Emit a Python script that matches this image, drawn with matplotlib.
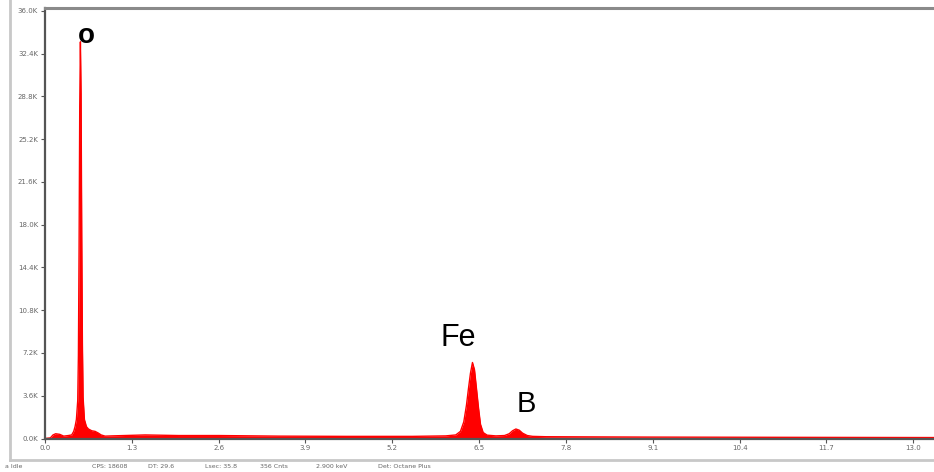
import matplotlib
matplotlib.use("Agg")
import matplotlib.pyplot as plt
from matplotlib.lines import Line2D
from matplotlib.ticker import FuncFormatter

# Spectrum (energy in keV, counts in thousands)
energy = [0.00, 0.08, 0.12, 0.16, 0.22, 0.28, 0.35, 0.40, 0.43, 0.45, 0.47,
          0.49, 0.50, 0.51, 0.52, 0.53, 0.54, 0.55, 0.56, 0.57, 0.59, 0.62,
          0.65, 0.70, 0.75, 0.80, 0.84, 0.90, 1.00, 1.50, 2.00, 2.60, 3.50,
          4.50, 5.50, 6.00, 6.15, 6.22, 6.27, 6.31, 6.34, 6.37, 6.40, 6.43,
          6.46, 6.49, 6.52, 6.56, 6.62, 6.75, 6.88, 6.95, 7.00, 7.05, 7.10,
          7.15, 7.22, 7.30, 7.50, 9.00, 11.00, 13.30]
counts = [0.00, 0.05, 0.30, 0.40, 0.35, 0.20, 0.25, 0.30, 0.60, 1.00, 1.60,
          3.20, 7.00, 16.0, 28.0, 33.4, 29.0, 17.0, 8.00, 3.50, 1.60, 1.00,
          0.80, 0.65, 0.60, 0.45, 0.30, 0.20, 0.22, 0.30, 0.25, 0.25, 0.20,
          0.18, 0.18, 0.22, 0.30, 0.60, 1.40, 2.80, 4.20, 5.50, 6.40, 5.80,
          4.20, 2.60, 1.20, 0.50, 0.28, 0.22, 0.25, 0.40, 0.65, 0.80, 0.70,
          0.45, 0.25, 0.18, 0.15, 0.12, 0.10, 0.08]

peak_labels = ["o", "Fe", "B"]
peak_x = [0.62, 6.18, 7.20]
peak_y = [32.8, 7.2, 1.7]

xticks = [0.0, 1.3, 2.6, 3.9, 5.2, 6.5, 7.8, 9.1, 10.4, 11.7, 13.0]
yticks = [0.0, 3.6, 7.2, 10.8, 14.4, 18.0, 21.6, 25.2, 28.8, 32.4, 36.0]

status_texts = ["a Idle", "CPS: 18608", "DT: 29.6", "Lsec: 35.8", "356 Cnts",
                "2.900 keV", "Det: Octane Plus"]
status_x = [5, 92, 148, 205, 260, 316, 378]

W, H = 934, 472
fig = plt.figure(figsize=(W / 100, H / 100), dpi=100)
fig.patch.set_facecolor("white")

# outer panel lines
fig.add_artist(Line2D([10 / W, 10 / W], [1 - 460 / H, 1.0], transform=fig.transFigure,
                      color="#c8c8c8", lw=2.0))
fig.add_artist(Line2D([10 / W, 1.0], [1 - 460 / H, 1 - 460 / H], transform=fig.transFigure,
                      color="#c8c8c8", lw=2.0))

left, right, top, bottom = 45, 934, 8, 438.5
ax = fig.add_axes([left / W, 1 - bottom / H, (right - left) / W, (bottom - top) / H])
ax.fill_between(energy, counts, 0, color="#ff0000", lw=0)
ax.plot(energy, counts, color="#ff0000", lw=1.0)

ax.set_xlim(0, 13.31)
ax.set_ylim(0, 36.25)
ax.set_xticks(xticks)
ax.set_yticks(yticks)
ax.xaxis.set_major_formatter(FuncFormatter(lambda v, p: f"{v:.1f}"))
ax.yaxis.set_major_formatter(FuncFormatter(lambda v, p: f"{v:.1f}K"))
ax.tick_params(axis="both", labelsize=5, colors="#555555", length=3, width=0.8,
               direction="out", pad=2, labelcolor="#666666")

ax.spines["right"].set_visible(False)
ax.spines["left"].set_color("#555555")
ax.spines["left"].set_linewidth(1.6)
ax.spines["bottom"].set_color("#555555")
ax.spines["bottom"].set_linewidth(1.6)
ax.spines["top"].set_color("#8a8a8a")
ax.spines["top"].set_linewidth(2.2)

sizes = [20, 22, 21]
weights = ["bold", "normal", "normal"]
for lab, x, y, s, w in zip(peak_labels, peak_x, peak_y, sizes, weights):
    ax.text(x, y, lab, fontsize=s, fontweight=w, family="Liberation Sans", color="black",
            ha="center", va="bottom")

for t, x in zip(status_texts, status_x):
    fig.text(x / W, 1 - 467 / H, t, fontsize=4.5, color="#666666", va="center", ha="left")

fig.savefig("out.png", dpi=100, facecolor="white")
